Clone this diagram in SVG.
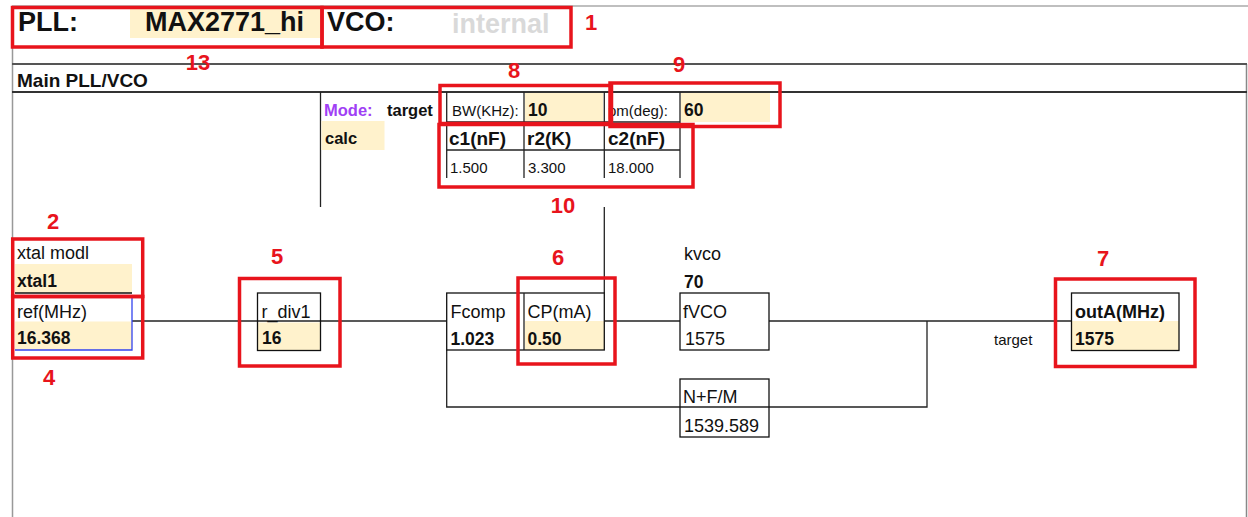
<svg xmlns="http://www.w3.org/2000/svg" width="1248" height="517" viewBox="0 0 1248 517">
<style>
text{font-family:"Liberation Sans",Arial,sans-serif;fill:#111}
.t{font-size:27px;font-weight:bold}
.lb{font-size:18px}
.vb{font-size:17.5px;font-weight:bold}
.hb{font-size:19px;font-weight:bold}
.sm{font-size:15px}
.md{font-size:16.5px;font-weight:bold}
.y{fill:#FFF2CC}
.box{fill:none;stroke:#111;stroke-width:1.3}
.ln{fill:none;stroke:#222;stroke-width:1.3}
.red{fill:none;stroke:#E8141C;stroke-width:3.5}
.rn{font-size:22px;font-weight:bold;fill:#E8141C;text-anchor:middle}
</style>
<rect width="1248" height="517" fill="#fff"/>
<g id="frame">
<line x1="12" y1="6" x2="1248" y2="6" stroke="#aaa" stroke-width="1.5"/>
<line x1="12.5" y1="47" x2="12.5" y2="517" stroke="#999" stroke-width="1.5"/>
<line x1="1246.5" y1="64" x2="1246.5" y2="517" stroke="#888" stroke-width="1.5"/>
<line x1="12" y1="64" x2="1247" y2="64" stroke="#555" stroke-width="2"/>
<line x1="12" y1="92" x2="1247" y2="92" stroke="#333" stroke-width="2"/>
</g>
<g id="title">
<rect class="y" x="130" y="9" width="190" height="29"/>
<text class="t" x="18" y="31">PLL:</text>
<text class="t" x="145" y="31">MAX2771_hi</text>
<text class="t" x="327" y="31">VCO:</text>
<text class="t" x="452" y="33" style="fill:#d9d9d9">internal</text>
</g>
<text x="17" y="87" style="font-size:19px;font-weight:bold">Main PLL/VCO</text>
<g id="connectors">
<line class="ln" x1="320.5" y1="92" x2="320.5" y2="207"/>
<line class="ln" x1="604.3" y1="207" x2="604.3" y2="293"/>
<line class="ln" x1="132" y1="321" x2="446.7" y2="321"/>
<line class="ln" x1="604.3" y1="321" x2="680" y2="321"/>
<line class="ln" x1="769" y1="321" x2="1072" y2="321"/>
<polyline class="ln" points="446.7,350 446.7,407 927,407 927,321"/>
</g>
<g id="mode">
<rect class="y" x="321.5" y="121" width="63" height="29"/>
<text class="md" x="324" y="116" style="fill:#A040F5">Mode:</text>
<text class="md" x="387" y="116">target</text>
<text class="md" x="325" y="144">calc</text>
</g>
<g id="loopfilter">
<rect class="y" x="525" y="93" width="78" height="28"/>
<rect class="y" x="681" y="93" width="89" height="29"/>
<line class="ln" x1="446.7" y1="92" x2="446.7" y2="178"/>
<line class="ln" x1="524" y1="92" x2="524" y2="178"/>
<line class="ln" x1="604.3" y1="92" x2="604.3" y2="178"/>
<line class="ln" x1="680" y1="92" x2="680" y2="178"/>
<line class="ln" x1="446.7" y1="122" x2="680" y2="122"/>
<line class="ln" x1="446.7" y1="150" x2="680" y2="150"/>
<text class="sm" x="452" y="116">BW(KHz):</text>
<text class="vb" x="528" y="116">10</text>
<text class="sm" x="608" y="116">pm(deg):</text>
<text class="vb" x="684" y="116">60</text>
<text class="hb" x="449" y="145">c1(nF)</text>
<text class="hb" x="527" y="145">r2(K)</text>
<text class="hb" x="608" y="145">c2(nF)</text>
<text class="sm" x="450" y="173">1.500</text>
<text class="sm" x="528" y="173">3.300</text>
<text class="sm" x="608" y="173">18.000</text>
</g>
<g id="xtal">
<rect class="y" x="15" y="264" width="117" height="29"/>
<line x1="15" y1="293" x2="132" y2="293" stroke="#111" stroke-width="1.3"/>
<text class="lb" x="17" y="259">xtal modl</text>
<text class="vb" x="17" y="287">xtal1</text>
</g>
<g id="ref">
<rect class="y" x="15" y="321.5" width="117" height="28.5"/>
<polyline points="132,297 132,350 15,350" fill="none" stroke="#3344ee" stroke-width="1.3"/>
<text class="lb" x="17" y="318">ref(MHz)</text>
<text class="vb" x="17" y="344">16.368</text>
</g>
<g id="rdiv">
<rect class="y" x="258" y="322.5" width="62.5" height="27.5"/>
<rect class="box" x="257.5" y="293" width="63" height="57.5"/>
<text class="lb" x="261.5" y="317.5">r_div1</text>
<text class="vb" x="262" y="344">16</text>
</g>
<g id="fcomp-cp">
<rect class="y" x="525" y="321" width="79" height="29"/>
<rect class="box" x="446.7" y="293" width="157.6" height="57"/>
<line class="ln" x1="524" y1="293" x2="524" y2="350"/>
<text class="lb" x="450.5" y="317.5">Fcomp</text>
<text class="vb" x="450.5" y="344.5">1.023</text>
<text class="lb" x="527.5" y="317.5">CP(mA)</text>
<text class="vb" x="527.5" y="344.5">0.50</text>
</g>
<g id="kvco">
<text class="lb" x="684" y="259.5">kvco</text>
<text class="vb" x="684" y="287.5">70</text>
</g>
<g id="fvco">
<rect class="box" x="680" y="293" width="89" height="57"/>
<text class="lb" x="683" y="317.5">fVCO</text>
<text class="lb" x="685" y="344.5">1575</text>
</g>
<g id="nfm">
<rect class="box" x="680" y="379" width="89" height="58"/>
<text class="lb" x="683" y="403">N+F/M</text>
<text class="lb" x="684" y="432">1539.589</text>
</g>
<g id="outa">
<text class="sm" x="994" y="344.5">target</text>
<rect class="y" x="1072" y="321" width="107" height="29"/>
<rect class="box" x="1071.5" y="293" width="107.5" height="57.5"/>
<text style="font-size:18px;font-weight:bold" x="1075" y="318">outA(MHz)</text>
<text class="vb" x="1075" y="344.5">1575</text>
</g>
<g id="annotations">
<rect class="red" x="12.5" y="7.5" width="309.5" height="39.5"/>
<rect class="red" x="322" y="7.5" width="249" height="39.5"/>
<rect class="red" x="440" y="85.5" width="171.5" height="38"/>
<rect class="red" x="610" y="83" width="170" height="43.5"/>
<rect class="red" x="439" y="124.5" width="254" height="62.5"/>
<rect class="red" x="12.7" y="239" width="130" height="57.5"/>
<rect class="red" x="12.7" y="296.5" width="130" height="61.5"/>
<rect class="red" x="239.5" y="278.5" width="100.5" height="87.5"/>
<rect class="red" x="518" y="278" width="97" height="86"/>
<rect class="red" x="1055.5" y="279" width="139.5" height="87.5"/>
<text class="rn" x="591" y="30">1</text>
<text class="rn" x="198" y="70">13</text>
<text class="rn" x="514" y="78">8</text>
<text class="rn" x="679" y="72">9</text>
<text class="rn" x="563" y="213">10</text>
<text class="rn" x="53" y="229">2</text>
<text class="rn" x="277" y="264">5</text>
<text class="rn" x="49" y="385">4</text>
<text class="rn" x="558" y="265">6</text>
<text class="rn" x="1103" y="266">7</text>
</g>
</svg>
